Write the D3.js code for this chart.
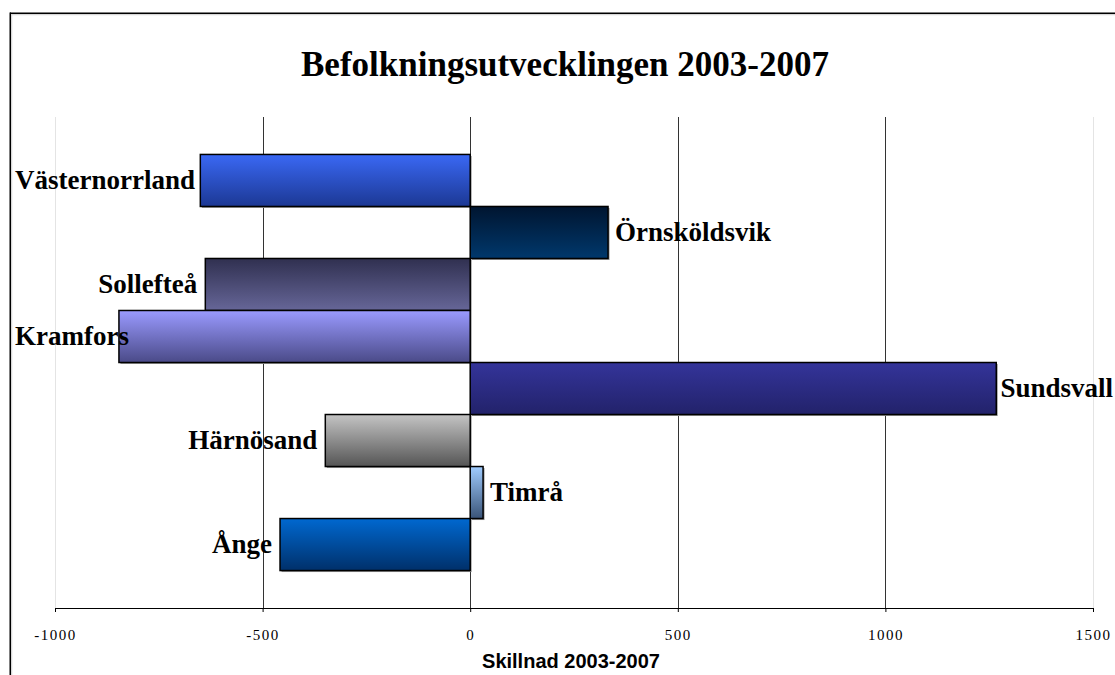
<!DOCTYPE html>
<html>
<head>
<meta charset="utf-8">
<script src="https://cdn.jsdelivr.net/npm/d3@7"></script>
<style>
  html, body { margin: 0; padding: 0; background: #fff; }
  svg { display: block; }
</style>
</head>
<body>
<svg id="chart" width="1115" height="675"></svg>
<script>
// ---- data ----
const categories = ["Västernorrland", "Örnsköldsvik", "Sollefteå", "Kramfors", "Sundsvall", "Härnösand", "Timrå", "Ånge"];
const values = [-650, 332, -638, -846, 1267, -349, 31, -458];
const colorsTop = ["#3a68f4", "#001530", "#303050", "#9a9aff", "#34349a", "#c4c4c4", "#a0ccff", "#0068d0"];
const colorsBottom = ["#1c3894", "#00386c", "#666698", "#4a4a88", "#22226a", "#555555", "#3a5478", "#00306a"];
const tickValues = [-1000, -500, 0, 500, 1000, 1500];
const title = "Befolkningsutvecklingen 2003-2007";
const axisTitle = "Skillnad 2003-2007";

const svg = d3.select("#chart");
const plot = { left: 55, right: 1093, top: 117, bottom: 608 };

const x = d3.scaleLinear().domain([-1000, 1500]).range([plot.left, plot.right]);
const y = d3.scaleBand().domain(categories).range([plot.top, plot.bottom]).paddingInner(0).paddingOuter(0.72);

// frame
svg.append("line").attr("x1", 10).attr("x2", 1115).attr("y1", 14.5).attr("y2", 14.5).attr("stroke", "#d8d8d8").attr("stroke-width", 1.5);
svg.append("line").attr("x1", 11.5).attr("x2", 11.5).attr("y1", 13).attr("y2", 675).attr("stroke", "#d8d8d8").attr("stroke-width", 1.5);
svg.append("line").attr("x1", 10).attr("x2", 1115).attr("y1", 13.25).attr("y2", 13.25).attr("stroke", "#000").attr("stroke-width", 1.5);
svg.append("line").attr("x1", 10.25).attr("x2", 10.25).attr("y1", 12.5).attr("y2", 675).attr("stroke", "#000").attr("stroke-width", 1.5);

// title
svg.append("text").attr("x", 565).attr("y", 76).attr("text-anchor", "middle")
  .attr("font-family", "'Liberation Serif', 'Times New Roman', serif").attr("font-weight", "bold")
  .attr("font-size", 35).attr("fill", "#000").text(title);

// gradients
const defs = svg.append("defs");
categories.forEach((c, i) => {
  const g = defs.append("linearGradient").attr("id", "grad" + i).attr("x1", 0).attr("y1", 0).attr("x2", 0).attr("y2", 1);
  g.append("stop").attr("offset", "0%").attr("stop-color", colorsTop[i]);
  g.append("stop").attr("offset", "100%").attr("stop-color", colorsBottom[i]);
});

// gridlines
svg.append("g").selectAll("line").data(tickValues).join("line")
  .attr("x1", d => Math.round(x(d)) + 0.5).attr("x2", d => Math.round(x(d)) + 0.5)
  .attr("y1", plot.top).attr("y2", plot.bottom)
  .attr("stroke", d => (d === -1000 || d === 1500) ? "#e4e4e4" : "#333")
  .attr("stroke-width", 1);

// axis
const axis = d3.axisBottom(x).tickValues(tickValues).tickSize(5).tickSizeOuter(0).tickFormat(d => String(d));
const ax = svg.append("g").attr("transform", `translate(0,${plot.bottom})`).call(axis);
ax.select(".domain").attr("stroke", "#000").attr("stroke-width", 1.2).attr("d", `M${plot.left},0.5H${plot.right}`);
ax.selectAll(".tick line").attr("stroke", "#000").attr("y1", 0).attr("y2", 4);
ax.selectAll(".tick text")
  .attr("font-family", "'Liberation Serif', 'Times New Roman', serif")
  .attr("font-size", 15).attr("letter-spacing", "1.5px").attr("fill", "#000").attr("dy", null).attr("y", 32);

svg.append("text").attr("x", 571).attr("y", 668).attr("text-anchor", "middle")
  .attr("font-family", "'Liberation Sans', Arial, sans-serif").attr("font-weight", "bold")
  .attr("font-size", 20).attr("fill", "#000").text(axisTitle);

// bars
const bars = svg.append("g");
const data = categories.map((c, i) => ({ c, v: values[i], i }));
// shadows
bars.selectAll("rect.shadow").data(data).join("rect").attr("class", "shadow")
  .attr("x", d => Math.min(x(0), x(d.v)) + 1.5)
  .attr("y", d => y(d.c) + 1.5)
  .attr("width", d => Math.abs(x(d.v) - x(0)))
  .attr("height", y.bandwidth())
  .attr("fill", "#9a9a9a");
bars.selectAll("rect.bar").data(data).join("rect").attr("class", "bar")
  .attr("x", d => Math.min(x(0), x(d.v)))
  .attr("y", d => y(d.c))
  .attr("width", d => Math.abs(x(d.v) - x(0)))
  .attr("height", y.bandwidth())
  .attr("fill", d => `url(#grad${d.i})`)
  .attr("stroke", "#000").attr("stroke-width", 1.5);

// labels
const labels = svg.append("g").selectAll("text").data(data).join("text")
  .attr("font-family", "'Liberation Serif', 'Times New Roman', serif")
  .attr("font-weight", "bold").attr("font-size", 27).attr("fill", "#000")
  .attr("y", d => y(d.c) + y.bandwidth() / 2)
  .attr("dy", "0.33em")
  .text(d => d.c);
labels.each(function(d) {
  const w = this.getComputedTextLength();
  let start;
  if (d.v < 0) start = x(d.v) - 8 - w;
  else start = x(d.v) + 7;
  start = Math.max(15, Math.min(start, 1113 - w));
  d3.select(this).attr("x", start).attr("text-anchor", "start");
});
</script>
</body>
</html>
